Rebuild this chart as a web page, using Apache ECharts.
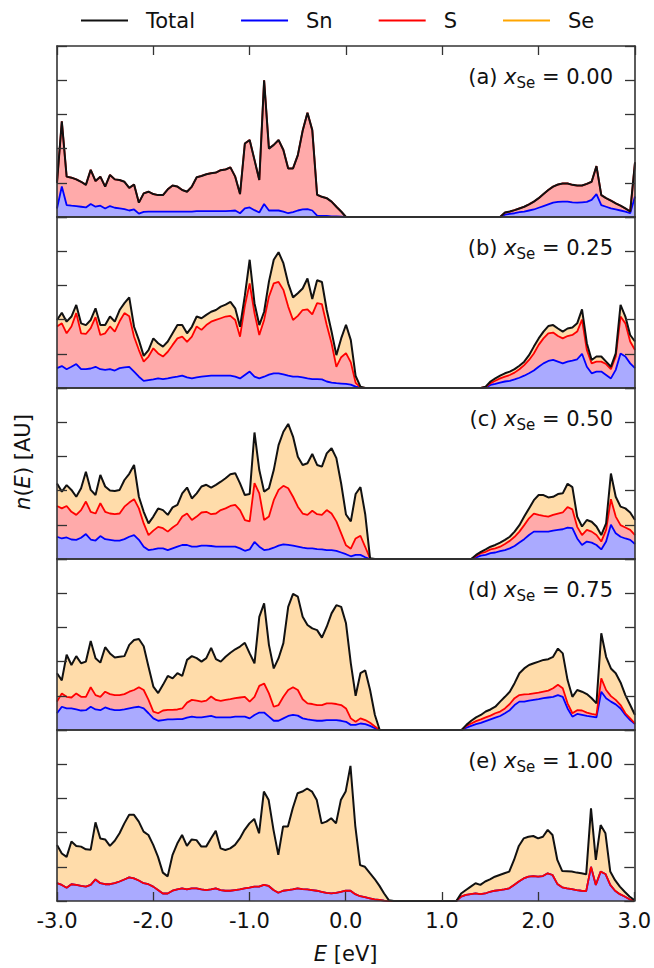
<!DOCTYPE html>
<html>
<head>
<meta charset="utf-8">
<script src="https://cdn.jsdelivr.net/npm/echarts@6/dist/echarts.min.js"></script>
<style>
  html, body { margin: 0; padding: 0; background: #fff; }
  #chart { width: 654px; height: 968px; }
</style>
</head>
<body>
<div id="chart"></div>
<script>
// energy grid [eV]
const energy = [
  -3.00, -2.95, -2.90, -2.85, -2.80, -2.75, -2.70, -2.65, -2.60, -2.55,
  -2.50, -2.45, -2.40, -2.35, -2.30, -2.25, -2.20, -2.15, -2.10, -2.05,
  -2.00, -1.95, -1.90, -1.85, -1.80, -1.75, -1.70, -1.65, -1.60, -1.55,
  -1.50, -1.45, -1.40, -1.35, -1.30, -1.25, -1.20, -1.15, -1.10, -1.05,
  -1.00, -0.95, -0.90, -0.85, -0.80, -0.75, -0.70, -0.65, -0.60, -0.55,
  -0.50, -0.45, -0.40, -0.35, -0.30, -0.25, -0.20, -0.15, -0.10, -0.05,
  0.00, 0.05, 0.10, 0.15, 0.20, 0.25, 0.30, 0.35, 0.40, 0.45,
  0.50, 0.55, 0.60, 0.65, 0.70, 0.75, 0.80, 0.85, 0.90, 0.95,
  1.00, 1.05, 1.10, 1.15, 1.20, 1.25, 1.30, 1.35, 1.40, 1.45,
  1.50, 1.55, 1.60, 1.65, 1.70, 1.75, 1.80, 1.85, 1.90, 1.95,
  2.00, 2.05, 2.10, 2.15, 2.20, 2.25, 2.30, 2.35, 2.40, 2.45,
  2.50, 2.55, 2.60, 2.65, 2.70, 2.75, 2.80, 2.85, 2.90, 2.95,
  3.00
]
const xTicks = [-3, -2, -1, 0, 1, 2, 3]

// (a) x_Se = 0.00 : sn = Sn, sns = Sn + S, tot = Total
const totA = [
  1.0, 2.8, 1.18, 1.15, 1.1, 1.03, 0.94, 1.38, 1.05, 1.18,
  0.89, 1.23, 1.1, 1.08, 1.03, 0.85, 0.95, 0.42, 0.69, 0.74,
  0.67, 0.64, 0.64, 0.81, 0.92, 0.89, 0.79, 0.74, 0.89, 1.16,
  1.2, 1.25, 1.28, 1.3, 1.37, 1.39, 1.45, 1.18, 0.67, 2.15,
  2.25, 1.67, 1.08, 4.0, 2.0, 2.11, 2.25, 1.96, 1.42, 1.42,
  1.81, 2.52, 3.05, 2.54, 0.65, 0.59, 0.55, 0.45, 0.3, 0.16,
  0, 0, 0, 0, 0, 0, 0, 0, 0, 0,
  0, 0, 0, 0, 0, 0, 0, 0, 0, 0,
  0, 0, 0, 0, 0, 0, 0, 0, 0, 0,
  0, 0, 0, 0.13, 0.16, 0.2, 0.25, 0.3, 0.37, 0.45,
  0.55, 0.67, 0.79, 0.89, 0.95, 0.98, 0.98, 0.94, 0.92, 0.92,
  0.97, 1.03, 1.49, 0.64, 0.55, 0.48, 0.4, 0.33, 0.25, 0.16,
  1.6
]
const snsA = totA
const snA = [
  0.25, 0.89, 0.35, 0.33, 0.32, 0.3, 0.28, 0.38, 0.3, 0.33,
  0.25, 0.32, 0.27, 0.25, 0.23, 0.19, 0.22, 0.1, 0.15, 0.16,
  0.16, 0.16, 0.16, 0.16, 0.16, 0.16, 0.16, 0.16, 0.16, 0.17,
  0.17, 0.17, 0.17, 0.17, 0.17, 0.17, 0.18, 0.19, 0.11, 0.25,
  0.28, 0.2, 0.13, 0.38, 0.19, 0.19, 0.19, 0.16, 0.11, 0.14,
  0.19, 0.22, 0.23, 0.19, 0.04, 0.03, 0.03, 0.02, 0.02, 0.01,
  0, 0, 0, 0, 0, 0, 0, 0, 0, 0,
  0, 0, 0, 0, 0, 0, 0, 0, 0, 0,
  0, 0, 0, 0, 0, 0, 0, 0, 0, 0,
  0, 0, 0, 0.07, 0.09, 0.11, 0.14, 0.16, 0.19, 0.22,
  0.27, 0.32, 0.37, 0.42, 0.44, 0.45, 0.45, 0.43, 0.42, 0.43,
  0.44, 0.5, 0.67, 0.35, 0.3, 0.25, 0.22, 0.19, 0.16, 0.11,
  0.6
]

// (b) x_Se = 0.25
const totB = [
  1.99, 2.2, 1.94, 2.09, 2.43, 1.89, 1.84, 1.99, 2.33, 1.84,
  1.84, 2.09, 1.94, 2.28, 2.48, 2.65, 1.79, 1.4, 0.94, 1.11,
  1.45, 1.31, 1.21, 1.36, 1.6, 1.84, 1.84, 1.6, 1.79, 2.09,
  2.04, 2.14, 2.23, 2.28, 2.38, 2.44, 2.52, 2.33, 1.79, 2.7,
  3.75, 2.48, 1.84, 2.23, 3.11, 3.75, 3.97, 3.65, 3.06, 2.65,
  2.77, 2.91, 3.2, 2.6, 3.15, 3.1, 2.28, 1.65, 0.96, 1.45,
  1.85, 1.4, 0.35, 0.04, 0, 0, 0, 0, 0, 0,
  0, 0, 0, 0, 0, 0, 0, 0, 0, 0,
  0, 0, 0, 0, 0, 0, 0, 0, 0, 0.04,
  0.19, 0.28, 0.36, 0.43, 0.48, 0.55, 0.65, 0.77, 0.96, 1.21,
  1.45, 1.65, 1.81, 1.84, 1.74, 1.65, 1.74, 1.77, 1.89, 2.3,
  1.31, 0.82, 0.92, 0.92, 0.77, 0.62, 1.01, 2.43, 2.09, 1.55,
  1.36
]
const snsB = [
  1.8, 1.89, 1.6, 1.8, 2.19, 1.6, 1.58, 1.75, 2.07, 1.55,
  1.6, 1.8, 1.65, 1.95, 2.19, 2.1, 1.5, 1.11, 0.77, 0.92,
  1.16, 1.01, 0.92, 1.06, 1.26, 1.45, 1.5, 1.35, 1.5, 1.8,
  1.7, 1.84, 1.94, 1.99, 2.04, 2.09, 2.11, 1.99, 1.5, 2.4,
  3.06, 2.19, 1.55, 1.99, 2.67, 3.06, 3.1, 2.87, 2.38, 1.99,
  2.11, 2.28, 2.3, 2.15, 2.48, 2.45, 1.84, 1.31, 0.62, 0.9,
  1.02, 0.75, 0.15, 0.02, 0, 0, 0, 0, 0, 0,
  0, 0, 0, 0, 0, 0, 0, 0, 0, 0,
  0, 0, 0, 0, 0, 0, 0, 0, 0, 0.03,
  0.14, 0.21, 0.28, 0.33, 0.38, 0.45, 0.55, 0.67, 0.82, 1.01,
  1.26, 1.45, 1.6, 1.62, 1.52, 1.45, 1.52, 1.55, 1.65, 2.0,
  1.11, 0.72, 0.77, 0.77, 0.7, 0.55, 0.92, 2.09, 1.89, 1.36,
  1.11
]
const snB = [
  0.58, 0.64, 0.55, 0.62, 0.7, 0.55, 0.55, 0.57, 0.62, 0.55,
  0.53, 0.55, 0.51, 0.58, 0.6, 0.62, 0.48, 0.33, 0.21, 0.23,
  0.25, 0.28, 0.26, 0.28, 0.31, 0.33, 0.36, 0.31, 0.28, 0.31,
  0.33, 0.35, 0.36, 0.36, 0.36, 0.36, 0.36, 0.33, 0.28, 0.38,
  0.48, 0.33, 0.28, 0.33, 0.39, 0.43, 0.43, 0.4, 0.36, 0.33,
  0.33, 0.31, 0.28, 0.26, 0.26, 0.25, 0.19, 0.16, 0.14, 0.13,
  0.12, 0.1, 0.04, 0.01, 0, 0, 0, 0, 0, 0,
  0, 0, 0, 0, 0, 0, 0, 0, 0, 0,
  0, 0, 0, 0, 0, 0, 0, 0, 0, 0.01,
  0.09, 0.12, 0.16, 0.19, 0.21, 0.25, 0.3, 0.36, 0.43, 0.51,
  0.62, 0.72, 0.79, 0.82, 0.77, 0.72, 0.77, 0.8, 0.84, 1.0,
  0.62, 0.43, 0.48, 0.48, 0.38, 0.28, 0.53, 1.01, 0.92, 0.72,
  0.58
]

// (c) x_Se = 0.50
const totC = [
  2.21, 1.97, 2.16, 2.02, 1.82, 2.07, 2.55, 2.02, 1.87, 2.46,
  2.12, 2.0, 1.99, 2.02, 2.31, 2.49, 2.75, 1.82, 1.38, 1.04,
  1.24, 1.48, 1.43, 1.29, 1.51, 1.58, 1.92, 2.09, 1.77, 1.92,
  2.12, 2.17, 2.09, 2.17, 2.26, 2.36, 2.48, 2.51, 2.21, 1.87,
  1.9, 3.7, 2.6, 1.97, 2.07, 2.6, 3.33, 3.72, 3.95, 3.58,
  2.99, 2.75, 2.8, 3.07, 2.75, 2.7, 3.09, 3.24, 2.95, 2.2,
  1.3, 1.1, 1.9, 2.1, 1.3, 0.02, 0, 0, 0, 0,
  0, 0, 0, 0, 0, 0, 0, 0, 0, 0,
  0, 0, 0, 0, 0, 0, 0, 0.12, 0.21, 0.28,
  0.36, 0.41, 0.48, 0.56, 0.65, 0.8, 0.99, 1.24, 1.48, 1.72,
  1.87, 1.87, 1.8, 1.82, 1.9, 1.92, 2.2, 2.1, 1.24, 0.95,
  1.14, 1.09, 0.95, 0.7, 1.04, 2.5, 1.82, 1.53, 1.48, 1.36,
  1.14
]
const snsC = [
  1.55, 1.48, 1.55, 1.38, 1.29, 1.43, 1.68, 1.38, 1.33, 1.63,
  1.38, 1.33, 1.31, 1.33, 1.53, 1.65, 1.75, 1.48, 1.04, 0.7,
  0.83, 0.94, 0.9, 0.8, 0.92, 1.02, 1.24, 1.33, 1.14, 1.24,
  1.36, 1.38, 1.31, 1.33, 1.43, 1.48, 1.55, 1.58, 1.43, 1.14,
  1.1, 2.22, 1.92, 1.14, 1.24, 1.72, 2.02, 2.14, 2.07, 1.82,
  1.53, 1.33, 1.29, 1.41, 1.31, 1.29, 1.43, 1.33, 1.1, 0.75,
  0.4, 0.3, 0.6, 0.68, 0.35, 0.01, 0, 0, 0, 0,
  0, 0, 0, 0, 0, 0, 0, 0, 0, 0,
  0, 0, 0, 0, 0, 0, 0, 0.09, 0.17, 0.21,
  0.28, 0.31, 0.36, 0.44, 0.53, 0.65, 0.8, 0.99, 1.19, 1.33,
  1.29, 1.26, 1.24, 1.29, 1.33, 1.36, 1.52, 1.45, 0.94, 0.7,
  0.85, 0.8, 0.7, 0.51, 0.85, 1.75, 1.24, 0.99, 0.92, 0.85,
  0.7
]
const snC = [
  0.65, 0.6, 0.63, 0.57, 0.56, 0.62, 0.73, 0.57, 0.54, 0.67,
  0.58, 0.56, 0.54, 0.54, 0.58, 0.65, 0.7, 0.56, 0.36, 0.26,
  0.28, 0.31, 0.31, 0.26, 0.31, 0.36, 0.41, 0.41, 0.36, 0.36,
  0.39, 0.39, 0.38, 0.36, 0.36, 0.36, 0.36, 0.36, 0.31, 0.24,
  0.28, 0.5, 0.36, 0.26, 0.28, 0.33, 0.39, 0.43, 0.41, 0.39,
  0.36, 0.33, 0.31, 0.31, 0.29, 0.28, 0.26, 0.26, 0.24, 0.19,
  0.14, 0.08, 0.12, 0.12, 0.05, 0, 0, 0, 0, 0,
  0, 0, 0, 0, 0, 0, 0, 0, 0, 0,
  0, 0, 0, 0, 0, 0, 0, 0.05, 0.1, 0.12,
  0.17, 0.19, 0.23, 0.26, 0.31, 0.38, 0.48, 0.58, 0.7, 0.8,
  0.8, 0.8, 0.8, 0.83, 0.85, 0.87, 0.92, 0.9, 0.6, 0.41,
  0.51, 0.48, 0.41, 0.28, 0.51, 1.0, 0.75, 0.65, 0.6, 0.56,
  0.44
]

// (d) x_Se = 0.75
const totD = [
  1.66, 1.45, 2.2, 1.9, 2.16, 1.95, 2.0, 2.6, 2.1, 1.97,
  2.42, 2.24, 2.12, 2.14, 2.16, 2.49, 2.63, 2.66, 2.45, 1.85,
  1.27, 1.08, 1.32, 1.58, 1.51, 1.66, 1.58, 2.05, 2.16, 2.1,
  2.0, 2.1, 2.4, 2.07, 2.0, 2.14, 2.26, 2.36, 2.44, 2.55,
  2.24, 1.95, 3.31, 3.7, 2.49, 1.8, 2.1, 2.54, 3.6, 3.98,
  3.9, 3.31, 3.07, 2.97, 2.92, 2.7, 3.02, 3.41, 3.65, 3.6,
  3.12, 1.95, 1.0, 1.66, 1.74, 1.17, 0.44, 0, 0, 0,
  0, 0, 0, 0, 0, 0, 0, 0, 0, 0,
  0, 0, 0, 0, 0, 0.15, 0.27, 0.37, 0.44, 0.54,
  0.6, 0.68, 0.83, 0.97, 1.12, 1.37, 1.66, 1.8, 1.9, 1.95,
  2.0, 2.05, 2.07, 2.14, 2.38, 2.24, 1.46, 0.97, 1.17, 1.12,
  1.05, 0.93, 0.78, 2.83, 2.14, 1.8, 1.66, 1.39, 1.02, 0.73,
  0.44
]
const snsD = [
  0.83, 1.07, 0.97, 0.95, 1.07, 0.97, 0.97, 1.25, 1.02, 0.97,
  1.12, 1.05, 1.02, 1.02, 1.05, 1.12, 1.17, 1.25, 1.17, 0.88,
  0.54, 0.49, 0.57, 0.59, 0.59, 0.6, 0.63, 0.8, 0.88, 0.86,
  0.83, 0.86, 0.98, 0.88, 0.85, 0.88, 0.9, 0.93, 0.95, 0.97,
  0.83, 0.97, 1.29, 1.36, 1.07, 0.68, 0.73, 0.97, 1.17, 1.25,
  1.17, 0.9, 0.78, 0.76, 0.73, 0.73, 0.78, 0.78, 0.76, 0.73,
  0.63, 0.34, 0.24, 0.34, 0.29, 0.21, 0.1, 0, 0, 0,
  0, 0, 0, 0, 0, 0, 0, 0, 0, 0,
  0, 0, 0, 0, 0, 0.12, 0.19, 0.26, 0.31, 0.37,
  0.42, 0.49, 0.54, 0.63, 0.76, 0.93, 1.02, 1.04, 1.05, 1.07,
  1.09, 1.12, 1.15, 1.22, 1.32, 1.22, 0.78, 0.49, 0.58, 0.57,
  0.51, 0.47, 0.44, 1.51, 1.17, 0.99, 0.88, 0.73, 0.49, 0.34,
  0.19
]
const snD = [
  0.49, 0.68, 0.63, 0.63, 0.6, 0.57, 0.58, 0.68, 0.6, 0.58,
  0.66, 0.61, 0.58, 0.58, 0.6, 0.63, 0.66, 0.68, 0.63, 0.49,
  0.34, 0.27, 0.29, 0.31, 0.31, 0.32, 0.32, 0.36, 0.39, 0.37,
  0.37, 0.39, 0.41, 0.37, 0.37, 0.37, 0.37, 0.39, 0.39, 0.39,
  0.34, 0.44, 0.51, 0.51, 0.39, 0.27, 0.27, 0.34, 0.41, 0.44,
  0.42, 0.34, 0.31, 0.29, 0.27, 0.27, 0.29, 0.29, 0.29, 0.27,
  0.24, 0.15, 0.15, 0.19, 0.17, 0.12, 0.05, 0, 0, 0,
  0, 0, 0, 0, 0, 0, 0, 0, 0, 0,
  0, 0, 0, 0, 0, 0.07, 0.12, 0.17, 0.21, 0.26,
  0.31, 0.36, 0.41, 0.49, 0.58, 0.73, 0.83, 0.83, 0.86, 0.88,
  0.9, 0.93, 0.95, 0.97, 1.02, 0.97, 0.63, 0.39, 0.47, 0.44,
  0.41, 0.39, 0.37, 1.12, 0.93, 0.83, 0.75, 0.63, 0.44, 0.29,
  0.17
]

// (e) x_Se = 1.00 (no S)
const totE = [
  1.64, 1.39, 1.29, 1.74, 1.61, 1.59, 1.51, 1.5, 2.3, 1.83,
  1.8, 1.61, 1.76, 1.98, 2.27, 2.52, 2.52, 2.32, 2.03, 1.93,
  1.64, 1.29, 0.83, 0.72, 1.34, 1.68, 1.93, 1.61, 1.8, 1.78,
  1.59, 1.59, 1.83, 2.05, 1.54, 1.49, 1.54, 1.64, 1.83, 2.08,
  2.27, 2.4, 1.98, 3.2, 2.95, 2.08, 1.35, 2.18, 2.18, 2.71,
  3.15, 3.2, 3.29, 3.2, 2.95, 2.27, 2.32, 2.42, 2.27, 2.95,
  3.2, 3.95, 2.2, 1.05, 1.0, 0.82, 0.65, 0.45, 0.22, 0.02,
  0, 0, 0, 0, 0, 0, 0, 0, 0, 0,
  0, 0, 0, 0, 0.22, 0.32, 0.42, 0.52, 0.47, 0.57,
  0.63, 0.71, 0.76, 0.81, 0.86, 1.2, 1.61, 1.83, 1.88, 1.9,
  1.83, 1.88, 2.08, 1.93, 1.2, 0.88, 0.87, 0.86, 0.83, 0.81,
  0.78, 2.71, 1.2, 2.22, 1.98, 0.86, 0.61, 0.42, 0.27, 0.13,
  0.03
]
const snE = [
  0.52, 0.47, 0.39, 0.49, 0.47, 0.44, 0.42, 0.47, 0.63, 0.52,
  0.49, 0.49, 0.52, 0.57, 0.63, 0.69, 0.66, 0.6, 0.52, 0.49,
  0.42, 0.32, 0.22, 0.22, 0.3, 0.34, 0.37, 0.34, 0.37, 0.37,
  0.34, 0.32, 0.34, 0.37, 0.32, 0.3, 0.3, 0.32, 0.34, 0.37,
  0.39, 0.42, 0.42, 0.47, 0.44, 0.32, 0.24, 0.3, 0.32, 0.34,
  0.37, 0.35, 0.34, 0.32, 0.3, 0.27, 0.24, 0.22, 0.24, 0.27,
  0.3, 0.3, 0.2, 0.14, 0.11, 0.08, 0.05, 0.03, 0.01, 0,
  0, 0, 0, 0, 0, 0, 0, 0, 0, 0,
  0, 0, 0, 0, 0.13, 0.18, 0.2, 0.22, 0.2, 0.22,
  0.27, 0.3, 0.32, 0.34, 0.37, 0.47, 0.57, 0.66, 0.71, 0.73,
  0.71, 0.73, 0.81, 0.76, 0.5, 0.4, 0.37, 0.35, 0.32, 0.3,
  0.29, 1.0, 0.47, 0.86, 0.79, 0.47, 0.3, 0.2, 0.13, 0.05,
  0
]
const snsE = snE

const panels = [
  {tag: 'a', x: '0.00', sn: snA, sns: snsA, tot: totA},
  {tag: 'b', x: '0.25', sn: snB, sns: snsB, tot: totB},
  {tag: 'c', x: '0.50', sn: snC, sns: snsC, tot: totC},
  {tag: 'd', x: '0.75', sn: snD, sns: snsD, tot: totD},
  {tag: 'e', x: '1.00', sn: snE, sns: snsE, tot: totE}
]

const FONT = 'DejaVu Sans'
const axisColor = '#333'
const colors = {
  total: '#111111',
  sn: '#0000ff',
  s: '#ff0000',
  se: '#ffa500',
  snFill: '#aaaaff',
  sFill: '#ffaaaa',
  seFill: '#ffdcaa'
}

function pairs (vals) {
  return energy.map((e, k) => [e, vals[k]])
}

const grids = []
const xAxes = []
const yAxes = []
const series = []
const titles = []

panels.forEach((p, i) => {
  const top = 46 + 171 * i
  const last = i === panels.length - 1
  grids.push({left: 57, width: 578, top: top, height: 171})

  const lineStyle = {color: axisColor, width: 1.6}
  const tickStyle = {color: axisColor, width: 1.3}
  xAxes.push({
    gridIndex: i, type: 'value', min: -3, max: 3, interval: 1, position: 'bottom', z: 10,
    axisLine: {show: true, onZero: false, lineStyle: lineStyle},
    axisTick: {show: last, inside: true, length: 9, lineStyle: tickStyle},
    axisLabel: {
      show: last, margin: 9, color: '#111', fontFamily: FONT, fontSize: 21,
      formatter: v => xTicks.indexOf(v) >= 0 ? v.toFixed(1) : ''
    },
    splitLine: {show: false},
    name: last ? '{i|E} [eV]' : '',
    nameLocation: 'middle', nameGap: 42,
    nameTextStyle: {
      color: '#111', fontFamily: FONT, fontSize: 21,
      rich: {i: {fontStyle: 'italic', fontFamily: FONT, fontSize: 21, color: '#111'}}
    }
  })
  xAxes.push({
    gridIndex: i, type: 'value', min: -3, max: 3, interval: 1, position: 'top', z: 10,
    axisLine: {show: true, onZero: false, lineStyle: lineStyle},
    axisTick: {show: i === 0, inside: true, length: 9, lineStyle: tickStyle},
    axisLabel: {show: false},
    splitLine: {show: false}
  })
  yAxes.push({
    gridIndex: i, type: 'value', min: 0, max: 5, interval: 1, position: 'left', z: 10,
    axisLine: {show: true, onZero: false, lineStyle: lineStyle},
    axisTick: {show: true, inside: true, length: 10, lineStyle: tickStyle},
    axisLabel: {show: false},
    splitLine: {show: false}
  })
  yAxes.push({
    gridIndex: i, type: 'value', min: 0, max: 5, interval: 1, position: 'right', z: 10,
    axisLine: {show: true, onZero: false, lineStyle: lineStyle},
    axisTick: {show: true, inside: true, length: 10, lineStyle: tickStyle},
    axisLabel: {show: false},
    splitLine: {show: false}
  })

  const base = {
    type: 'line', xAxisIndex: 2 * i, yAxisIndex: 2 * i,
    symbol: 'none', animation: false, silent: true
  }
  // fills, drawn back to front (each fills down to zero)
  series.push(Object.assign({}, base, {
    name: 'Se', data: pairs(p.tot),
    itemStyle: {color: colors.se},
    lineStyle: {opacity: 0},
    areaStyle: {color: colors.seFill, opacity: 1}
  }))
  series.push(Object.assign({}, base, {
    name: 'S fill', data: pairs(p.sns),
    itemStyle: {color: colors.s},
    lineStyle: {opacity: 0},
    areaStyle: {color: colors.sFill, opacity: 1}
  }))
  series.push(Object.assign({}, base, {
    name: 'Sn fill', data: pairs(p.sn),
    itemStyle: {color: colors.sn},
    lineStyle: {opacity: 0},
    areaStyle: {color: colors.snFill, opacity: 1}
  }))
  // lines
  series.push(Object.assign({}, base, {
    name: 'Sn', data: pairs(p.sn),
    itemStyle: {color: colors.sn},
    lineStyle: {color: colors.sn, width: 1.8}
  }))
  series.push(Object.assign({}, base, {
    name: 'S', data: pairs(p.sns),
    itemStyle: {color: colors.s},
    lineStyle: {color: colors.s, width: 1.8}
  }))
  series.push(Object.assign({}, base, {
    name: 'Total', data: pairs(p.tot),
    itemStyle: {color: colors.total},
    lineStyle: {color: colors.total, width: 2}
  }))

  titles.push({
    text: '{n|(' + p.tag + ') }{i|x}{s|Se}{n| = ' + p.x + '}',
    right: 41, top: top + 19, padding: 0,
    textStyle: {
      fontWeight: 'normal',
      rich: {
        n: {fontFamily: FONT, fontSize: 21, lineHeight: 24, fontWeight: 'normal', color: '#111'},
        i: {fontFamily: FONT, fontSize: 21, lineHeight: 24, fontWeight: 'normal', fontStyle: 'italic', color: '#111'},
        s: {fontFamily: FONT, fontSize: 15, lineHeight: 15, fontWeight: 'normal', padding: [12, 0, 0, 0], color: '#111'}
      }
    }
  })
})

const chart = echarts.init(document.getElementById('chart'), null, {renderer: 'svg'})
chart.setOption({
  animation: false,
  backgroundColor: '#fff',
  title: titles,
  legend: {
    left: 81, top: 10, padding: 0,
    icon: 'rect', itemWidth: 47, itemHeight: 2, itemGap: 46,
    selectedMode: false,
    textStyle: {fontFamily: FONT, fontSize: 21, color: '#111', padding: [0, 0, 0, 13]},
    data: [
      {name: 'Total', itemStyle: {color: colors.total}},
      {name: 'Sn', itemStyle: {color: colors.sn}},
      {name: 'S', itemStyle: {color: colors.s}},
      {name: 'Se', itemStyle: {color: colors.se}}
    ]
  },
  graphic: [{
    type: 'text', x: 23, y: 462, rotation: Math.PI / 2,
    style: {
      text: '{i|n}{n|(}{i|E}{n|) [AU]}',
      textAlign: 'center', textVerticalAlign: 'middle',
      align: 'center', verticalAlign: 'middle',
      rich: {
        n: {fontFamily: FONT, fontSize: 21, fill: '#111', color: '#111'},
        i: {fontFamily: FONT, fontSize: 21, fontStyle: 'italic', fill: '#111', color: '#111'}
      }
    }
  }],
  grid: grids,
  xAxis: xAxes,
  yAxis: yAxes,
  series: series
})
window.addEventListener('resize', () => {
  chart.resize()
})
</script>
</body>
</html>
